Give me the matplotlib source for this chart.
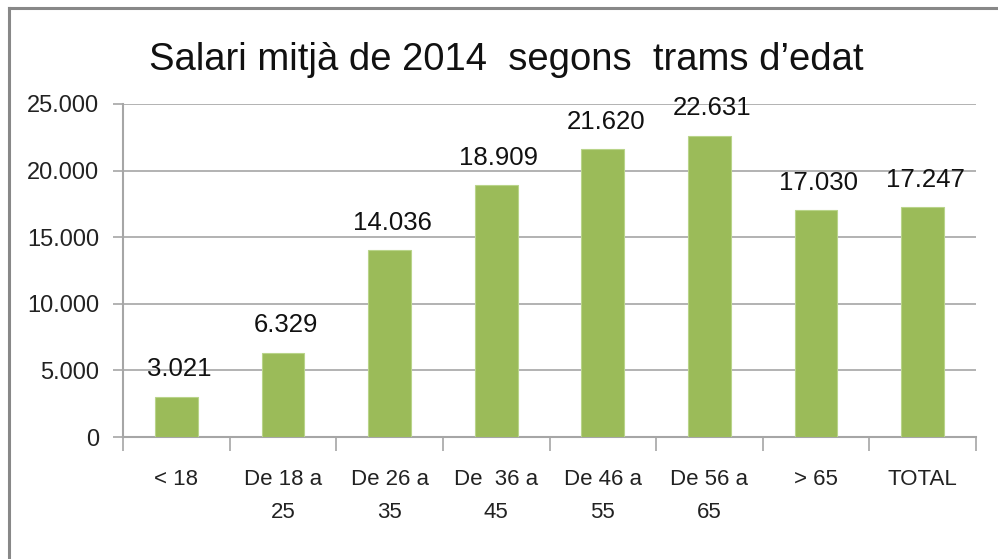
import matplotlib
matplotlib.use("Agg")
import matplotlib.pyplot as plt
from matplotlib.lines import Line2D

categories = ["< 18", "De 18 a\n25", "De 26 a\n35", "De  36 a\n45", "De 46 a\n55", "De 56 a\n65", "> 65", "TOTAL"]
values = [3021, 6329, 14036, 18909, 21620, 22631, 17030, 17247]
value_labels = ["3.021", "6.329", "14.036", "18.909", "21.620", "22.631", "17.030", "17.247"]
yticks = [0, 5000, 10000, 15000, 20000, 25000]
ytick_labels = ["0", "5.000", "10.000", "15.000", "20.000", "25.000"]
title = "Salari mitjà de 2014  segons  trams d\u2019edat"

W, H = 998, 559
fig = plt.figure(figsize=(W / 100, H / 100), dpi=100)
ax = fig.add_axes([123 / W, 1 - 437 / H, (976 - 123) / W, (437 - 104) / H])

arial = ["Liberation Sans", "DejaVu Sans"]

x = list(range(len(categories)))
ax.bar(x, values, width=0.4, color="#9BBB59", edgecolor="#B9D48A", linewidth=0.8, zorder=3)
ax.set_xlim(-0.5, len(categories) - 0.5)
ax.set_ylim(0, 25000)
ax.set_yticks(yticks)
ax.set_yticklabels(ytick_labels, family=arial, fontsize=17, color="#222222")
ax.yaxis.grid(True, color="#A6A6A6", linewidth=1.2, zorder=0)
ax.set_axisbelow(True)

ax.set_xticks([i - 0.5 for i in range(len(categories) + 1)])
ax.set_xticklabels([])
ax.set_xticks(x, minor=True)
ax.set_xticklabels(categories, minor=True, family=arial, fontsize=16, color="#222222", linespacing=1.75, va="top")
ax.tick_params(axis="x", which="minor", length=0, pad=23)
ax.tick_params(axis="x", which="major", length=10, width=1.2, color="#A6A6A6")
ax.tick_params(axis="y", length=7, width=1.2, color="#A6A6A6", pad=10)

for s in ["top", "right"]:
    ax.spines[s].set_visible(False)
for s in ["left", "bottom"]:
    ax.spines[s].set_color("#A6A6A6")
    ax.spines[s].set_linewidth(1.5)

for xi, v, lab in zip(x, values, value_labels):
    ax.annotate(lab, (xi, v), xytext=(2, 11), textcoords="offset points",
                ha="center", va="bottom", family=arial, fontsize=18.5, color="#111111")

fig.text(506 / W, 1 - 60 / H, title, ha="center", va="center", family=arial, fontsize=27.5, color="#111111")

fig.add_artist(Line2D([9 / W, 1.0], [1 - 8 / H, 1 - 8 / H], transform=fig.transFigure, color="#888888", linewidth=2.2))
fig.add_artist(Line2D([9 / W, 9 / W], [0, 1 - 8 / H], transform=fig.transFigure, color="#888888", linewidth=2.2))

fig.savefig("out.png", dpi=100)
